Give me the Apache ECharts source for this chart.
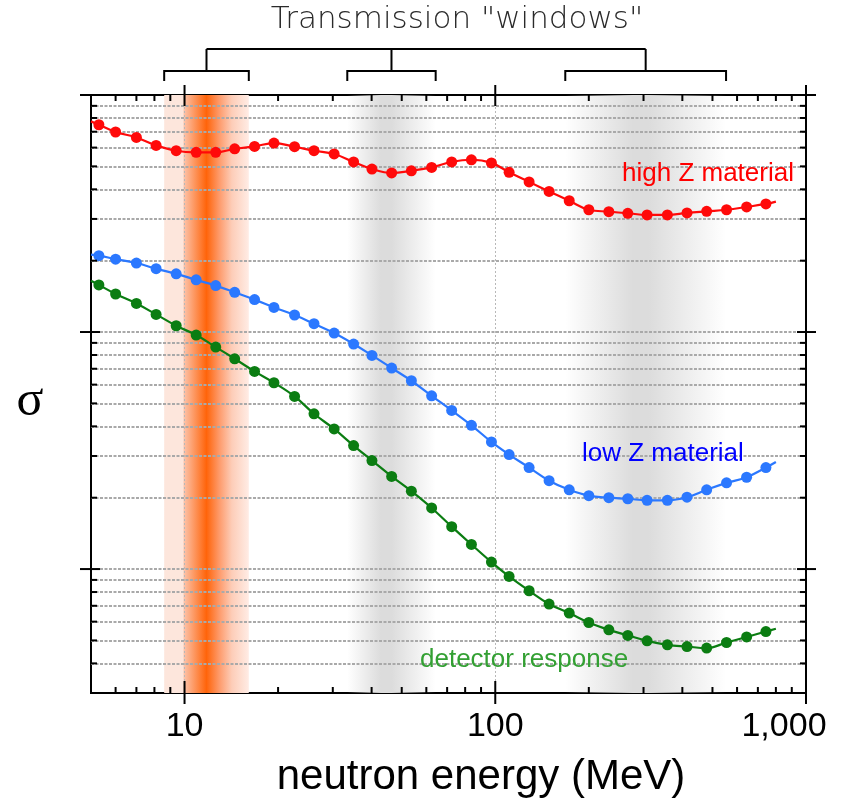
<!DOCTYPE html>
<html>
<head>
<meta charset="utf-8">
<script src="https://cdn.jsdelivr.net/npm/echarts@6/dist/echarts.min.js"></script>
<style>
  html, body { margin: 0; padding: 0; background: #fff; }
  #chart { width: 846px; height: 805px; }
</style>
</head>
<body>
<div id="chart"></div>
<script>
// neutron energy (MeV) of the measured points, shared by all three curves
const energy = [5.3, 6.0, 7.0, 8.1, 9.4, 10.9, 12.6, 14.5, 16.8, 19.4, 22.6, 26.1, 30.3, 35.0, 40.1, 46.4, 53.7, 62.4, 72.4, 83.8, 97.2, 110.8, 128.5, 149, 173, 200, 232, 267, 308, 358, 414, 479, 555, 644, 743];
const highZ = [749, 698, 662, 613, 582, 573, 573, 593, 607, 627, 605, 582, 564, 522, 487, 469, 479, 495, 522, 533, 517, 472, 430, 392, 358, 328, 322, 317, 312, 312, 318, 323, 328, 337, 347];
const lowZ = [210, 203, 195.5, 185, 176, 166, 157, 147, 137, 127, 118, 108.4, 99, 89, 79.7, 70.5, 62.3, 53.8, 46.7, 40.4, 34.4, 30.4, 26.8, 23.6, 21.6, 20.4, 20.0, 19.8, 19.5, 19.5, 20.1, 21.6, 23.1, 24.4, 26.8];
const detector = [158, 144.7, 132, 118.7, 106.3, 97.1, 86.4, 77.1, 68.2, 61.1, 53.5, 45.2, 39.0, 33.2, 28.7, 24.6, 21.3, 18.1, 15.1, 12.7, 10.7, 9.31, 8.10, 7.12, 6.52, 5.95, 5.54, 5.25, 4.98, 4.79, 4.71, 4.64, 4.90, 5.17, 5.45];

// fitted curves run a little past the points
const curveSpan = [5, 800];
const highZEnds = [774, 355];
const lowZEnds = [212, 28.3];
const detectorEnds = [164.6, 5.6];

const xRange = [5, 1000];
const yRange = [3, 1000];
const xMajor = [10, 100, 1000];
const xTickLabels = ['10', '100', '1,000'];
const xMinor = [6, 7, 8, 9, 20, 30, 40, 50, 60, 70, 80, 90, 200, 300, 400, 500, 600, 700, 800, 900];
const yMajor = [10, 100, 1000];
const yMinor = [4, 5, 6, 7, 8, 9, 20, 30, 40, 50, 60, 70, 80, 90, 200, 300, 400, 500, 600, 700, 800, 900];
const yGrid = [4, 5, 6, 7, 8, 9, 10, 20, 30, 40, 50, 60, 70, 80, 90, 100, 200, 300, 400, 500, 600, 700, 800, 900];
const xGrid = [10, 100];

// transmission windows (MeV)
const windows = [[8.6, 16.1], [33.4, 64.3], [168, 553]];

const FONT = '"Liberation Sans", Arial, sans-serif';

function curve(vals, ends) {
  const pts = energy.map((e, i) => [e, vals[i]]);
  return [{ value: [curveSpan[0], ends[0]], symbol: 'none' }].concat(pts, [{ value: [curveSpan[1], ends[1]], symbol: 'none' }]);
}

function grad(stops) {
  return { type: 'linear', x: 0, y: 0, x2: 1, y2: 0, colorStops: stops.map(s => ({ offset: s[0], color: s[1] })) };
}

const bandColors = [
  grad([[0, '#fde6dc'], [0.225, '#fde6dc'], [0.232, '#fcc3aa'], [0.5, '#ff640a'], [0.65, '#fe9a6a'], [0.8, '#fdcdb8'], [1, '#ffece5']]),
  grad([[0, 'rgba(220,220,220,0)'], [0.38, '#dcdcdc'], [0.5, '#dcdcdc'], [1, 'rgba(220,220,220,0)']]),
  grad([[0, 'rgba(220,220,220,0)'], [0.42, '#dcdcdc'], [0.52, '#dcdcdc'], [1, 'rgba(220,220,220,0)']])
];

const chart = echarts.init(document.getElementById('chart'));
chart.setOption({
  animation: false,
  backgroundColor: '#fff',
  grid: {
    left: 91, right: 40, top: 95, bottom: 112, outerBoundsMode: 'none', containLabel: false,
    show: true, borderColor: '#000', borderWidth: 2, backgroundColor: 'transparent'
  },
  xAxis: {
    type: 'log', logBase: 10, min: xRange[0], max: xRange[1],
    axisLine: { show: false }, axisTick: { show: false }, splitLine: { show: false },
    axisLabel: {
      color: '#000', fontSize: 34, fontFamily: FONT, margin: 17, showMinLabel: false,
      formatter: v => {
        const i = xMajor.findIndex(m => Math.abs(m - v) / m < 1e-6);
        if (i < 0) return '';
        return i === xMajor.length - 1 ? '{last|' + xTickLabels[i] + '}' : xTickLabels[i];
      },
      rich: { last: { fontSize: 34, fontFamily: FONT, color: '#000', padding: [0, 44, 0, 0] } }
    }
  },
  yAxis: {
    type: 'log', logBase: 10, min: yRange[0], max: yRange[1],
    axisLine: { show: false }, axisTick: { show: false }, splitLine: { show: false }, axisLabel: { show: false }
  },
  series: [
    {
      name: 'frame', type: 'scatter', data: [], silent: true,
      markArea: {
        silent: true, z: 1,
        data: windows.map((w, i) => [{ xAxis: w[0], itemStyle: { color: bandColors[i] } }, { xAxis: w[1] }])
      },
      markLine: {
        silent: true, symbol: 'none', z: 3, label: { show: false }, animation: false,
        lineStyle: { color: '#a9a9a9', width: 2, type: [3, 1.5] },
        data: yGrid.map(v => ({ yAxis: v }))
          .concat(xGrid.map(v => ({ xAxis: v, lineStyle: { color: '#b8b8b8', width: 1, type: [2, 2] } })))
      }
    },
    {
      name: 'high Z material', type: 'line', data: curve(highZ, highZEnds), smooth: 0.4,
      symbol: 'circle', symbolSize: 11, lineStyle: { color: '#ff0a0a', width: 2.2 }, itemStyle: { color: '#ff0a0a' }, z: 10
    },
    {
      name: 'low Z material', type: 'line', data: curve(lowZ, lowZEnds), smooth: 0.4,
      symbol: 'circle', symbolSize: 11, lineStyle: { color: '#2b78ff', width: 2.2 }, itemStyle: { color: '#2b78ff' }, z: 10
    },
    {
      name: 'detector response', type: 'line', data: curve(detector, detectorEnds), smooth: 0.4,
      symbol: 'circle', symbolSize: 11, lineStyle: { color: '#0b7d12', width: 2.2 }, itemStyle: { color: '#0b7d12' }, z: 10
    }
  ]
});

const px = v => chart.convertToPixel({ xAxisIndex: 0 }, v);
const py = v => chart.convertToPixel({ yAxisIndex: 0 }, v);
const graphics = [];
const ink = { stroke: '#000', lineWidth: 2, fill: null };

// ticks on all four sides: minor ones point inward, major ones cross the frame
const x0 = px(xRange[0]), x1 = px(xRange[1]), y0 = py(yRange[0]), y1 = py(yRange[1]);
function seg(a, b, c, d) {
  graphics.push({ type: 'line', z: 50, shape: { x1: a, y1: b, x2: c, y2: d }, style: ink });
}
yMinor.forEach(v => { const y = py(v); seg(x0, y, x0 + 6, y); seg(x1 - 6, y, x1, y); });
xMinor.forEach(v => { const x = px(v); seg(x, y0, x, y0 - 6); seg(x, y1, x, y1 + 6); });
yMajor.forEach(v => { const y = py(v); seg(x0 - 11, y, x0 + 9, y); seg(x1 - 9, y, x1 + 10, y); });
xMajor.forEach(v => { const x = px(v); seg(x, y0 - 12, x, y0 + 11); seg(x, y1 - 10, x, y1 + 11); });

// brackets over the windows
const centers = windows.map(w => px(Math.sqrt(w[0] * w[1])));
windows.forEach((w, i) => {
  graphics.push({ type: 'polyline', shape: { points: [[px(w[0]), 81], [px(w[0]), 71], [px(w[1]), 71], [px(w[1]), 81]] }, style: ink });
  graphics.push({ type: 'polyline', shape: { points: [[centers[i], 71], [centers[i], 49]] }, style: ink });
});
graphics.push({ type: 'polyline', shape: { points: [[centers[0], 49], [centers[2], 49]] }, style: ink });

const textZ = 100;
graphics.push(
  { type: 'text', z: textZ, x: 457, y: 20, style: { text: 'Transmission "windows"', fill: '#2a2a2a', font: '200 31px "DejaVu Sans ExtraLight", "DejaVu Sans", sans-serif', textAlign: 'center', textVerticalAlign: 'middle' } },
  { type: 'text', z: textZ, x: 481, y: 777, style: { text: 'neutron energy (MeV)', fill: '#000', font: '42px ' + FONT, textAlign: 'center', textVerticalAlign: 'middle' } },
  { type: 'text', z: textZ, x: 30, y: 402, style: { text: 'σ', fill: '#000', font: '50px "Liberation Serif", "Times New Roman", serif', textAlign: 'center', textVerticalAlign: 'middle' } },
  { type: 'text', z: textZ, x: 622, y: 174, style: { text: 'high Z material', fill: '#ff0000', font: '26px ' + FONT, textAlign: 'left', textVerticalAlign: 'middle' } },
  { type: 'text', z: textZ, x: 582, y: 454, style: { text: 'low Z material', fill: '#0000ff', font: '26px ' + FONT, textAlign: 'left', textVerticalAlign: 'middle' } },
  { type: 'text', z: textZ, x: 420, y: 660, style: { text: 'detector response', fill: '#33a033', font: '26px ' + FONT, textAlign: 'left', textVerticalAlign: 'middle' } }
);
chart.setOption({ graphic: graphics });
</script>
</body>
</html>
